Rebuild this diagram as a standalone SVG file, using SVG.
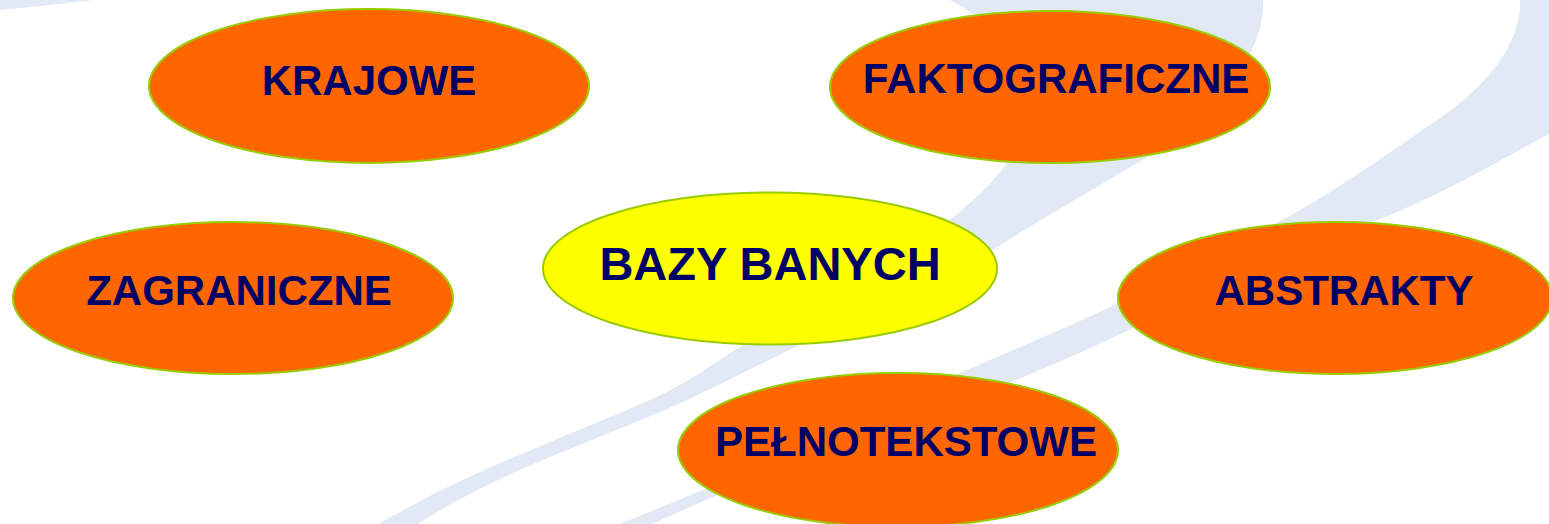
<svg xmlns="http://www.w3.org/2000/svg" width="1549" height="524" viewBox="0 0 1549 524">
  <style>
    .swoosh { fill: #e1e9f5; stroke: none; }
    .node ellipse { stroke: #99cc00; stroke-width: 2; }
    .leaf ellipse { fill: #ff6600; }
    .hub ellipse { fill: #ffff00; }
    .node text { font-family: "Liberation Sans", Arial, sans-serif; font-weight: bold; fill: #000066; text-anchor: middle; font-size: 42px; }
    .hub text { font-size: 47px; }
  </style>

  <!-- white page with light blue decorative swooshes -->
  <rect x="0" y="0" width="1549" height="524" fill="#ffffff"/>
  <g id="background">
    <path class="swoosh" d="M 0,0 L 95,0 C 60,4 30,7 0,10 Z"/>
    <path class="swoosh" d="M 950,0 L 1263,0 C 1266,45 1225,110 1147,157 C 1090,192 1030,225 993,250 C 930,290 860,318 800,345 C 760,364 720,385 687,400 C 600,440 500,470 418,524 L 379,524 C 470,470 560,440 650,400 C 690,382 715,362 743,345 C 820,300 900,260 950,220 C 975,200 995,180 1007,163 C 1050,110 1010,30 950,0 Z"/>
    <path class="swoosh" d="M 1520,0 C 1522,40 1490,85 1437,120 C 1390,152 1330,195 1277,223 C 1220,252 1160,283 1110,307 C 1060,331 1010,351 960,373 C 870,413 790,452 710,487 L 620,524 L 652,524 C 770,470 900,425 1016,380 C 1060,362 1100,344 1133,328 C 1220,287 1300,250 1377,220 C 1440,196 1500,160 1560,128 L 1560,0 Z"/>
  </g>

  <!-- no connectors are drawn between the nodes -->
  <g id="connectors"/>

  <g id="node-krajowe" class="node leaf">
    <ellipse cx="369" cy="86" rx="220" ry="77"/>
    <text x="369" y="95">KRAJOWE</text>
  </g>

  <g id="node-faktograficzne" class="node leaf">
    <ellipse cx="1050" cy="87" rx="220" ry="76"/>
    <text x="1056" y="93">FAKTOGRAFICZNE</text>
  </g>

  <g id="node-zagraniczne" class="node leaf">
    <ellipse cx="233" cy="298" rx="220" ry="76"/>
    <text x="239" y="305">ZAGRANICZNE</text>
  </g>

  <g id="node-bazy-banych" class="node hub">
    <ellipse cx="770" cy="268.5" rx="227" ry="76"/>
    <text x="770" y="280">BAZY BANYCH</text>
  </g>

  <g id="node-abstrakty" class="node leaf">
    <ellipse cx="1335" cy="298" rx="217" ry="76"/>
    <text x="1344" y="305">ABSTRAKTY</text>
  </g>

  <g id="node-pelnotekstowe" class="node leaf">
    <ellipse cx="898" cy="450" rx="220" ry="77"/>
    <text x="906" y="456">PEŁNOTEKSTOWE</text>
  </g>
</svg>
